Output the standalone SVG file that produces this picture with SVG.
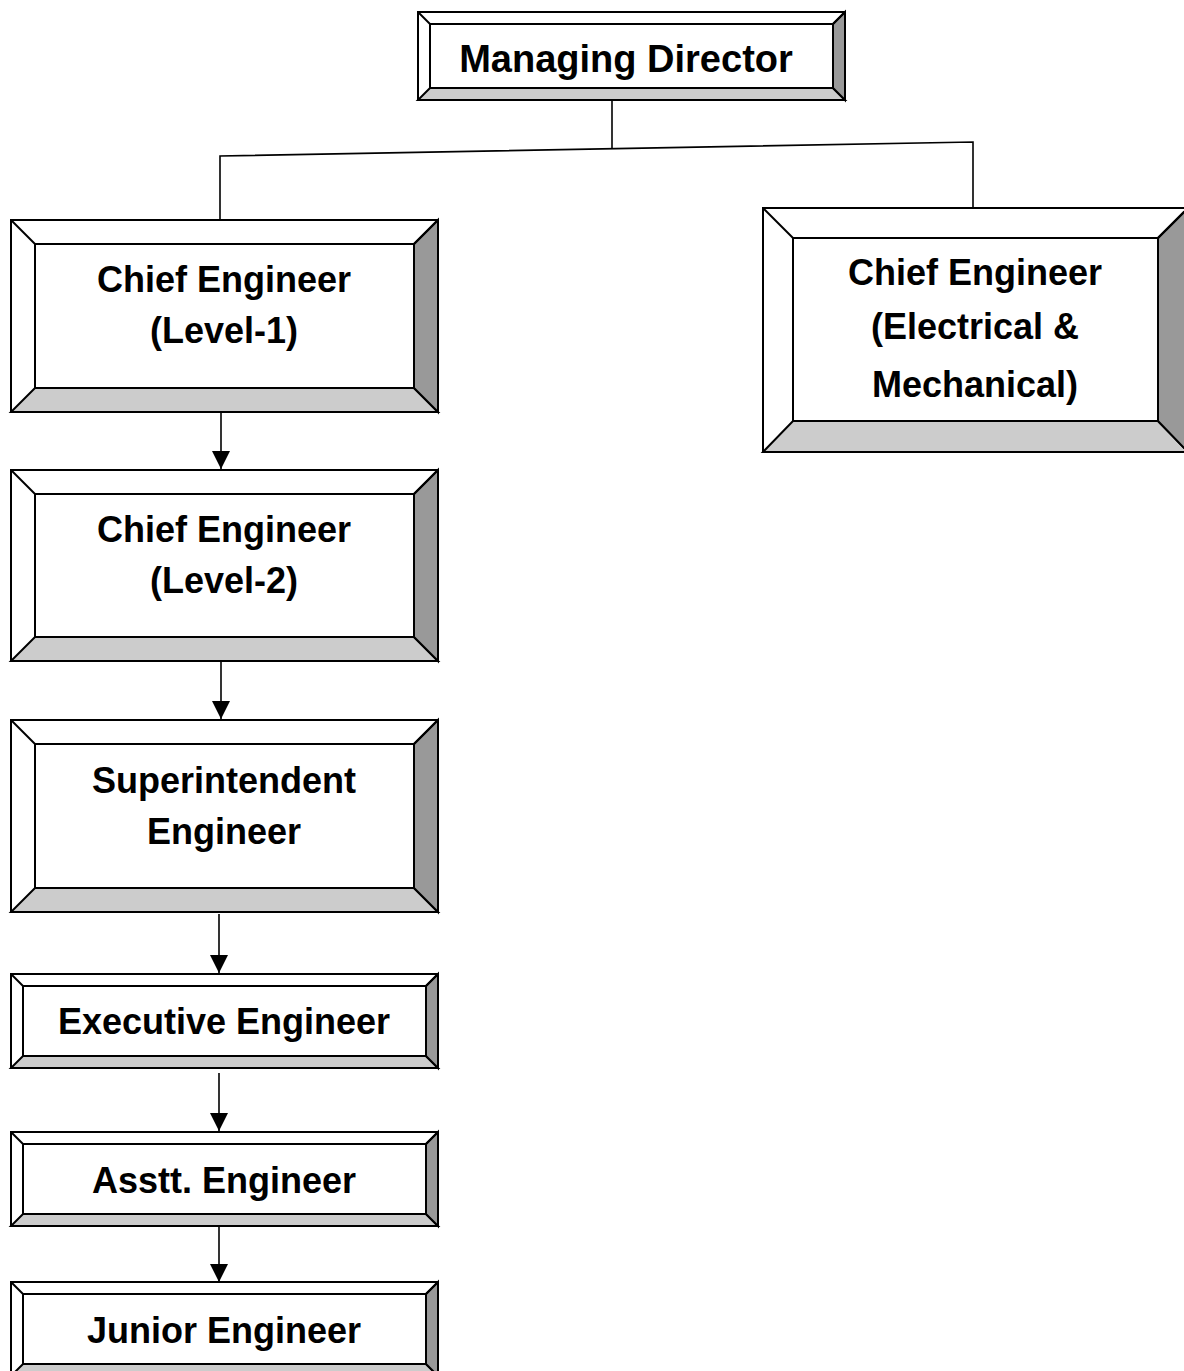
<svg xmlns="http://www.w3.org/2000/svg" width="1184" height="1371" viewBox="0 0 1184 1371">
<style>
.o{fill:#fff;stroke:#000;stroke-width:2;stroke-linejoin:miter}
.bt{fill:#cccccc;stroke:#000;stroke-width:2}
.rt{fill:#999999;stroke:#000;stroke-width:2}
.ln{fill:none;stroke:#000;stroke-width:2}
.t{font-family:"Liberation Sans",Arial,sans-serif;font-weight:bold;font-size:36px;fill:#000;text-anchor:middle}
.c{fill:none;stroke:#000;stroke-width:1.6}
</style>
<defs>
<marker id="ah" markerUnits="userSpaceOnUse" markerWidth="18" markerHeight="18" viewBox="0 0 16 16" refX="16" refY="8" orient="auto">
<path d="M0,0 L16,8 L0,16 Z" fill="#000"/>
</marker>
</defs>
<g id="connectors">
<polyline class="c" points="612,100 612,148"/>
<polyline class="c" points="220,220 220,156 973,142 973,208"/>
<line class="c" x1="221" y1="412" x2="221" y2="469" marker-end="url(#ah)"/>
<line class="c" x1="221" y1="661" x2="221" y2="719" marker-end="url(#ah)"/>
<line class="c" x1="219" y1="914" x2="219" y2="973" marker-end="url(#ah)"/>
<line class="c" x1="219" y1="1073" x2="219" y2="1131" marker-end="url(#ah)"/>
<line class="c" x1="219" y1="1226" x2="219" y2="1282" marker-end="url(#ah)"/>
</g>
<g id="md">
<rect class="o" x="418" y="12" width="427" height="88"/>
<polygon class="bt" points="418,100 845,100 833,88 430,88"/>
<polygon class="rt" points="845,12 845,100 833,88 833,24"/>
<rect class="ln" x="430" y="24" width="403" height="64"/>
<line class="ln" x1="418" y1="12" x2="430" y2="24"/>
<line class="ln" x1="845" y1="12" x2="833" y2="24"/>
<text class="t" x="626" y="72" font-size="38" style="font-size:38px">Managing Director</text>
</g>
<g id="ce1">
<rect class="o" x="11" y="220" width="427" height="192"/>
<polygon class="bt" points="11,412 438,412 414,388 35,388"/>
<polygon class="rt" points="438,220 438,412 414,388 414,244"/>
<rect class="ln" x="35" y="244" width="379" height="144"/>
<line class="ln" x1="11" y1="220" x2="35" y2="244"/>
<line class="ln" x1="438" y1="220" x2="414" y2="244"/>
<text class="t" x="224" y="292">Chief Engineer</text>
<text class="t" x="224" y="343">(Level-1)</text>
</g>
<g id="ce2">
<rect class="o" x="11" y="470" width="427" height="191"/>
<polygon class="bt" points="11,661 438,661 414,637 35,637"/>
<polygon class="rt" points="438,470 438,661 414,637 414,494"/>
<rect class="ln" x="35" y="494" width="379" height="143"/>
<line class="ln" x1="11" y1="470" x2="35" y2="494"/>
<line class="ln" x1="438" y1="470" x2="414" y2="494"/>
<text class="t" x="224" y="542">Chief Engineer</text>
<text class="t" x="224" y="593">(Level-2)</text>
</g>
<g id="se">
<rect class="o" x="11" y="720" width="427" height="192"/>
<polygon class="bt" points="11,912 438,912 414,888 35,888"/>
<polygon class="rt" points="438,720 438,912 414,888 414,744"/>
<rect class="ln" x="35" y="744" width="379" height="144"/>
<line class="ln" x1="11" y1="720" x2="35" y2="744"/>
<line class="ln" x1="438" y1="720" x2="414" y2="744"/>
<text class="t" x="224" y="793">Superintendent</text>
<text class="t" x="224" y="844">Engineer</text>
</g>
<g id="ee">
<rect class="o" x="11" y="974" width="427" height="94"/>
<polygon class="bt" points="11,1068 438,1068 426,1056 23,1056"/>
<polygon class="rt" points="438,974 438,1068 426,1056 426,986"/>
<rect class="ln" x="23" y="986" width="403" height="70"/>
<line class="ln" x1="11" y1="974" x2="23" y2="986"/>
<line class="ln" x1="438" y1="974" x2="426" y2="986"/>
<text class="t" x="224" y="1034">Executive Engineer</text>
</g>
<g id="ae">
<rect class="o" x="11" y="1132" width="427" height="94"/>
<polygon class="bt" points="11,1226 438,1226 426,1214 23,1214"/>
<polygon class="rt" points="438,1132 438,1226 426,1214 426,1144"/>
<rect class="ln" x="23" y="1144" width="403" height="70"/>
<line class="ln" x1="11" y1="1132" x2="23" y2="1144"/>
<line class="ln" x1="438" y1="1132" x2="426" y2="1144"/>
<text class="t" x="224" y="1193">Asstt. Engineer</text>
</g>
<g id="je">
<rect class="o" x="11" y="1282" width="427" height="94"/>
<polygon class="bt" points="11,1376 438,1376 426,1364 23,1364"/>
<polygon class="rt" points="438,1282 438,1376 426,1364 426,1294"/>
<rect class="ln" x="23" y="1294" width="403" height="70"/>
<line class="ln" x1="11" y1="1282" x2="23" y2="1294"/>
<line class="ln" x1="438" y1="1282" x2="426" y2="1294"/>
<text class="t" x="224" y="1343">Junior Engineer</text>
</g>
<g id="cem">
<rect class="o" x="763" y="208" width="425" height="244"/>
<polygon class="bt" points="763,452 1188,452 1158,421 793,421"/>
<polygon class="rt" points="1188,208 1188,452 1158,421 1158,238"/>
<rect class="ln" x="793" y="238" width="365" height="183"/>
<line class="ln" x1="763" y1="208" x2="793" y2="238"/>
<line class="ln" x1="1188" y1="208" x2="1158" y2="238"/>
<text class="t" x="975" y="285">Chief Engineer</text>
<text class="t" x="975" y="339">(Electrical &amp;</text>
<text class="t" x="975" y="397">Mechanical)</text>
</g>
</svg>
